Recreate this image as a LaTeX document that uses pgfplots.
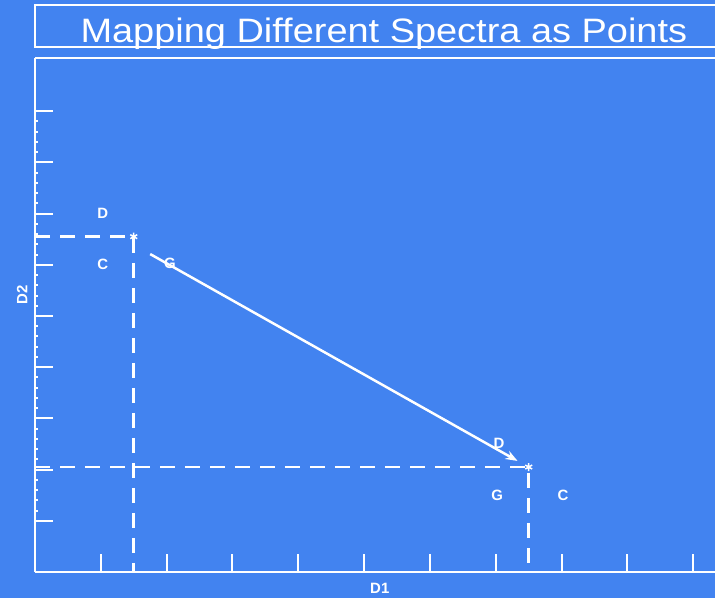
\documentclass[border=0pt]{standalone}
\usepackage{pgfplots}
\pgfplotsset{compat=1.18}
\usepackage{fontspec}
\setmainfont{Liberation Sans}
\usetikzlibrary{arrows.meta}
\definecolor{bgblue}{RGB}{66,131,240}

\begin{document}
\begin{tikzpicture}
% canvas
\fill[bgblue] (-35bp,-26bp) rectangle (680bp,572bp);
\path[use as bounding box] (-35bp,-26bp) rectangle (680bp,572bp);
\begin{axis}[
  at={(0,0)}, anchor=south west,
  scale only axis,
  width=680bp, height=514bp,
  xmin=0, xmax=10.33, ymin=0, ymax=10.04,
  axis line style={white, line width=2.5bp},
  axis x line*=bottom, axis y line*=left,
  xtick={1,...,10}, ytick={1,...,9},
  xticklabels={}, yticklabels={},
  minor y tick num=4, minor x tick num=0,
  tick align=inside,
  major tick length=18bp, minor tick length=3bp,
  every tick/.style={white, line width=2bp},
  clip=false,
]
% guide lines to the two points
\addplot[white, line width=2.5bp, dash pattern=on 15bp off 10bp]
  coordinates {(0,6.55) (1.5,6.55) (1.5,0)};
\addplot[white, line width=2.5bp, dash pattern=on 15bp off 10bp]
  coordinates {(0,2.05) (7.5,2.05) (7.5,0)};
% the two spectra as points
\addplot[white, only marks, mark=asterisk, mark size=4bp, line width=1.5bp]
  coordinates {(1.5,6.55) (7.5,2.05)};
% transition between them
\addplot[white, line width=2.5bp, -{Stealth[length=12bp,width=9bp]}]
  coordinates {(1.75,6.21) (7.33,2.17)};
% point labels
\tikzset{ptlab/.style={white, font=\fontsize{15}{15}\selectfont\bfseries}}
\node[ptlab] at (axis cs:1.03,7.01) {D};
\node[ptlab] at (axis cs:1.03,6.00) {C};
\node[ptlab] at (axis cs:2.05,6.02) {G};
\node[ptlab] at (axis cs:7.05,2.52) {D};
\node[ptlab] at (axis cs:7.02,1.50) {G};
\node[ptlab] at (axis cs:8.02,1.50) {C};
% axis labels
\node[ptlab] at (axis description cs:0.507,-0.031) {D1};
\node[ptlab, rotate=90] at (axis description cs:-0.019,0.539) {D2};
% top border of the plot area
\draw[white, line width=2bp] (axis description cs:0,1) -- (axis description cs:1,1);
% title box
\draw[white, line width=1.5bp] (axis description cs:0,1.021) rectangle (axis description cs:1.05,1.103);
\node[white, anchor=base, inner sep=0pt, font=\fontsize{34}{36}\selectfont]
  at (axis description cs:0.513,1.031)
  {\scalebox{1.12}[1]{Mapping Different Spectra as Points}};
\end{axis}
\end{tikzpicture}
\end{document}
